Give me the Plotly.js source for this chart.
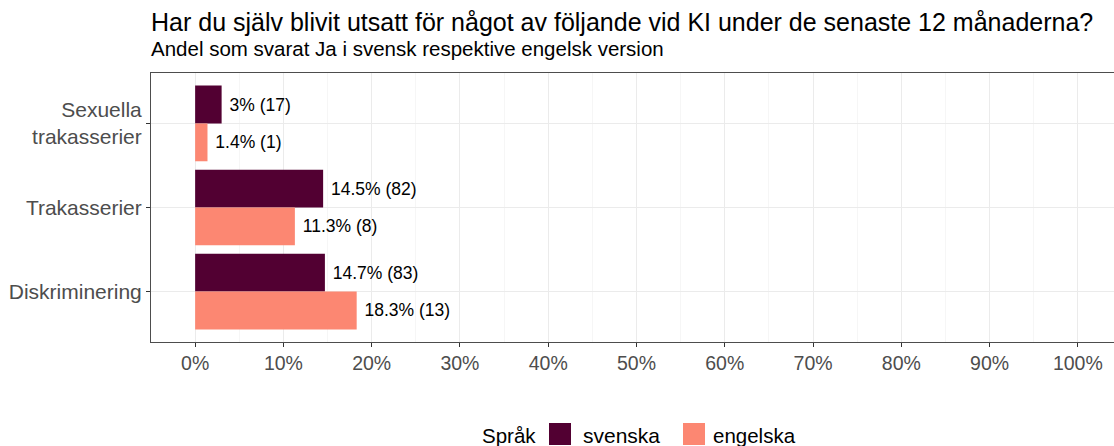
<!DOCTYPE html>
<html>
<head>
<meta charset="utf-8">
<script src="https://cdn.plot.ly/plotly-3.0.1.min.js"></script>
<style>
html,body{margin:0;padding:0;overflow:hidden;background:#fff;}
#chart{width:1130px;height:446px;}
</style>
</head>
<body>
<div id="chart"></div>
<script>
const categories = ['Sexuella<br>trakasserier', 'Trakasserier', 'Diskriminering'];
const svenskaPct = [3, 14.5, 14.7];
const svenskaN = [17, 82, 83];
const engelskaPct = [1.4, 11.3, 18.3];
const engelskaN = [1, 8, 13];
const seriesNames = ['svenska', 'engelska'];
const legendTitle = 'Språk';
const titleText = 'Har du själv blivit utsatt för något av följande vid KI under de senaste 12 månaderna?';
const subtitleText = 'Andel som svarat Ja i svensk respektive engelsk version';
const xTicks = [0, 10, 20, 30, 40, 50, 60, 70, 80, 90, 100];
const xTickLabels = xTicks.map(v => v + '%');

const colors = ['#520032', '#fc8772'];
const font = 'Liberation Sans, Arial, sans-serif';

const lbl = (p, n) => p.map((v, i) => '\u00a0' + v + '% (' + n[i] + ')');

const traces = [
  {type: 'bar', orientation: 'h', name: seriesNames[0], y: categories, x: svenskaPct,
   marker: {color: colors[0]}, text: lbl(svenskaPct, svenskaN), textposition: 'outside',
   textfont: {family: font, size: 17.5, color: '#000'}, constraintext: 'none', cliponaxis: false,
   hoverinfo: 'skip', showlegend: false},
  {type: 'bar', orientation: 'h', name: seriesNames[1], y: categories, x: engelskaPct,
   marker: {color: colors[1]}, text: lbl(engelskaPct, engelskaN), textposition: 'outside',
   textfont: {family: font, size: 17.5, color: '#000'}, constraintext: 'none', cliponaxis: false,
   hoverinfo: 'skip', showlegend: false}
];

const L = 151, T = 73, B = 342, W = 1130, H = 446;
const plotW = W - L - 8, plotH = B - T;
const px = p => (p - L) / plotW;
const py = p => (B - p) / plotH;

const shapes = [
  {type: 'rect', xref: 'paper', yref: 'paper', x0: px(549), x1: px(571), y0: py(445), y1: py(423), fillcolor: colors[0], line: {width: 0}},
  {type: 'rect', xref: 'paper', yref: 'paper', x0: px(683), x1: px(705), y0: py(445), y1: py(423), fillcolor: colors[1], line: {width: 0}}
];

const annotations = [
  {text: titleText, xref: 'paper', yref: 'paper', x: px(149), y: py(22), xanchor: 'left', yanchor: 'middle', showarrow: false, font: {family: font, size: 25, color: '#000'}},
  {text: subtitleText, xref: 'paper', yref: 'paper', x: px(149), y: py(49), xanchor: 'left', yanchor: 'middle', showarrow: false, font: {family: font, size: 20.5, color: '#000'}},
  {text: legendTitle, xref: 'paper', yref: 'paper', x: px(480), y: py(435), xanchor: 'left', yanchor: 'middle', showarrow: false, font: {family: font, size: 20.5, color: '#000'}},
  {text: seriesNames[0], xref: 'paper', yref: 'paper', x: px(581), y: py(435), xanchor: 'left', yanchor: 'middle', showarrow: false, font: {family: font, size: 21, color: '#000'}},
  {text: seriesNames[1], xref: 'paper', yref: 'paper', x: px(711), y: py(435), xanchor: 'left', yanchor: 'middle', showarrow: false, font: {family: font, size: 20.5, color: '#000'}}
];

const layout = {
  width: W, height: H,
  margin: {l: L, r: W - L - plotW, t: T, b: H - B, pad: 0},
  paper_bgcolor: '#fff', plot_bgcolor: '#fff',
  barmode: 'group', bargap: 0.1, bargroupgap: 0,
  showlegend: false,
  xaxis: {
    range: [-5, 105], tickvals: xTicks, ticktext: xTickLabels,
    showgrid: true, gridcolor: '#ebebeb', gridwidth: 1, zeroline: false,
    minor: {dtick: 5, tick0: 0, showgrid: true, gridcolor: '#f4f4f4', gridwidth: 0.8, ticks: ''},
    ticks: 'outside', ticklen: 4, tickcolor: '#333', tickwidth: 1,
    tickfont: {family: font, size: 19.5, color: '#4d4d4d'},
    showline: true, mirror: true, linecolor: '#4d4d4d', linewidth: 1, fixedrange: true
  },
  yaxis: {
    type: 'category', categoryorder: 'array', categoryarray: categories,
    range: [2.6, -0.6], showgrid: true, gridcolor: '#ebebeb', gridwidth: 1, zeroline: false,
    ticks: 'outside', ticklen: 4, tickcolor: '#333', tickwidth: 1,
    tickfont: {family: font, size: 21, color: '#4d4d4d'},
    showline: true, mirror: true, linecolor: '#4d4d4d', linewidth: 1, fixedrange: true
  },
  shapes: shapes,
  annotations: annotations,
  font: {family: font}
};

Plotly.newPlot('chart', traces, layout, {displayModeBar: false, staticPlot: true});
</script>
</body>
</html>
